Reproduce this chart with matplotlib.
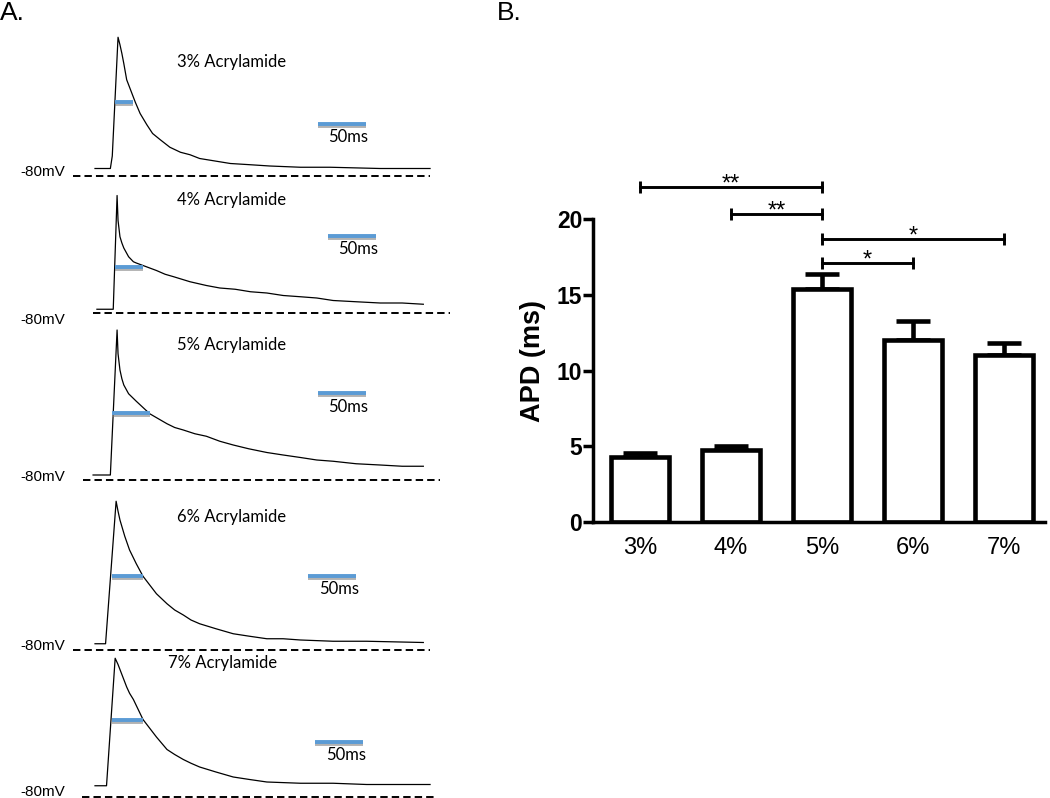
import matplotlib
matplotlib.use("Agg")
import matplotlib.pyplot as plt
import matplotlib.patheffects as pe
import numpy as np

W, H = 1050, 798

# ---- panel A: action potential traces, time (ms) and membrane potential (mV)
trace_names = ["3% Acrylamide", "4% Acrylamide", "5% Acrylamide", "6% Acrylamide", "7% Acrylamide"]
trace_t = [
    [0, 16, 18, 24, 26, 28, 30, 33, 38, 42, 47, 54, 60, 68, 78, 89, 99, 109, 125, 141, 162, 182, 214, 245, 297, 349],
    [2, 19, 23, 24, 26, 28, 30, 35, 40, 43, 50, 57, 64, 73, 82, 99, 116, 130, 146, 162, 179, 196, 214, 231, 248, 272, 297, 320, 342],
    [-2, 16, 23, 24, 26, 28, 30, 35, 43, 50, 57, 66, 75, 83, 92, 104, 116, 130, 144, 160, 179, 196, 214, 231, 248, 272, 297, 320, 342],
    [0, 11, 22, 24, 26, 31, 36, 43, 50, 57, 64, 75, 83, 92, 100, 109, 126, 144, 161, 179, 196, 214, 248, 283, 342],
    [0, 12, 21, 24, 26, 30, 33, 36, 40, 45, 50, 57, 64, 75, 83, 92, 100, 109, 126, 144, 161, 179, 214, 248, 283, 349],
]
trace_v = [
    [-74, -74, -64, 31, 25, 18, 10, -3, -13, -21, -30, -39, -46, -51, -57, -61, -63, -66, -68, -70, -71, -72, -73, -73, -74, -74],
    [-77, -77, 14, -6, -19, -24, -28, -35, -39, -40, -42, -44, -46, -49, -51, -55, -58, -60, -61, -63, -64, -66, -67, -68, -70, -71, -72, -72, -73],
    [-76, -76, 40, 21, 8, 1, -4, -11, -17, -22, -27, -31, -35, -38, -40, -43, -45, -49, -52, -55, -58, -60, -62, -64, -65, -67, -68, -69, -69],
    [-75, -75, 39, 31, 24, 11, 0, -11, -21, -28, -35, -43, -48, -52, -56, -59, -63, -67, -69, -71, -71, -72, -73, -73, -74],
    [-71, -71, 31, 26, 22, 14, 8, 3, -2, -10, -18, -25, -32, -42, -46, -50, -53, -56, -60, -64, -66, -68, -69, -69, -70, -70],
]
apd_start = [21, 21, 18, 18, 18]
apd_end = [40, 50, 57, 50, 50]
apd_level = [-21, -43, -26, -21, -18]
resting_mv = -80
scale_bar_ms = 50

# ---- panel B: APD bar chart
groups = ["3%", "4%", "5%", "6%", "7%"]
apd_mean = [4.3, 4.75, 15.4, 12.0, 11.05]
apd_sem = [0.27, 0.25, 1.0, 1.25, 0.75]
comparisons = [(0, 2, "**"), (1, 2, "**"), (2, 4, "*"), (2, 3, "*")]
bracket_y = [22.15, 20.35, 18.7, 17.1]

BLUE = "#5b9bd5"
MS_PER_PX = 50 / 48
MV_PER_PX = 0.8
T0_PX = 95

fig = plt.figure(figsize=(W / 100, H / 100), dpi=100)


def px_text(x, y, s, **kw):
    fig.text(x / W, 1 - y / H, s, **kw)


# band top, band bottom, -80 mV line (figure pixels)
bands = [(25, 185, 176), (185, 325, 313), (325, 490, 480), (490, 660, 650), (650, 798, 797)]
dash_from = [-23, -2, -13, -23, -14]
dash_to = [349, 370, 359, 349, 356]
bar_x = [232, 243, 232, 222, 229]
bar_level = [-38, -18, -10, -21, -36]
name_pos = [(232, 62), (232, 200), (232, 345), (232, 517), (223, 663)]
mv_pos = [172, 320, 477, 646, 792]
ms_pos = [(348, 137), (358, 249), (348, 407), (339, 589), (346, 755)]

for i, (top, bottom, base) in enumerate(bands):
    ax = fig.add_axes([0, 1 - bottom / H, 460 / W, (bottom - top) / H])
    ax.set_xlim(-T0_PX * MS_PER_PX, (460 - T0_PX) * MS_PER_PX)
    ax.set_ylim(resting_mv + (base - bottom) * MV_PER_PX, resting_mv + (base - top) * MV_PER_PX)
    ax.axis("off")

    ax.plot(trace_t[i], trace_v[i], color="black", lw=0.9, clip_on=False)
    ax.plot([dash_from[i], dash_to[i]], [resting_mv, resting_mv], color="black",
            lw=1.4, linestyle=(0, (3.8, 2.1)), clip_on=False)
    shadow = [pe.SimpleLineShadow(offset=(0, -1.5), shadow_color="gray", alpha=0.6), pe.Normal()]
    ax.plot([apd_start[i], apd_end[i]], [apd_level[i], apd_level[i]], color=BLUE,
            lw=2.8, solid_capstyle="butt", path_effects=shadow, clip_on=False)
    ax.plot([bar_x[i], bar_x[i] + scale_bar_ms], [bar_level[i], bar_level[i]], color=BLUE,
            lw=2.8, solid_capstyle="butt", path_effects=shadow, clip_on=False)

    px_text(*name_pos[i], trace_names[i], family="Lato", fontsize=12, ha="center", va="center")
    px_text(20, mv_pos[i], "-80mV", family="Liberation Sans", fontsize=11, ha="left", va="center")
    px_text(*ms_pos[i], f"{scale_bar_ms}ms", family="Lato", fontsize=12, ha="center", va="center")

px_text(0, 13, "A.", family="Liberation Sans", fontsize=19, ha="left", va="center")
px_text(497, 13, "B.", family="Liberation Sans", fontsize=19, ha="left", va="center")

# ---- bar chart
ax = fig.add_axes([593.3 / W, 1 - 521.7 / H, (1045 - 593.3) / W, (521.7 - 219.3) / H])
x = np.arange(len(groups))
ax.errorbar(x, apd_mean, yerr=[np.zeros(len(x)), apd_sem], fmt="none", ecolor="black",
            elinewidth=3.3, capsize=12, capthick=3.3, zorder=1)
ax.bar(x, apd_mean, width=0.64, facecolor="white", edgecolor="black", linewidth=3.3, zorder=2)

for (a, b, stars), y in zip(comparisons, bracket_y):
    ax.plot([a, b], [y, y], color="black", lw=2.1, marker="|", ms=8.5, mew=2.1, clip_on=False)
    ax.annotate(stars, xy=((a + b) / 2, y), xytext=(0, -2.5), textcoords="offset points",
                ha="center", va="baseline", fontsize=17, family="Liberation Sans",
                annotation_clip=False)

ax.set_xlim(-0.513, 4.45)
ax.set_ylim(0, 20)
for side in ["top", "right"]:
    ax.spines[side].set_visible(False)
for side in ["left", "bottom"]:
    ax.spines[side].set_linewidth(2.5)
ax.set_yticks([0, 5, 10, 15, 20])
ax.set_xticks(x)
ax.set_xticklabels(groups, family="Liberation Sans", fontsize=17)
for lbl in ax.get_yticklabels():
    lbl.set_family("Liberation Sans")
    lbl.set_fontweight("bold")
    lbl.set_fontsize(16.5)
ax.tick_params(axis="y", length=7, width=2.5, pad=1)
ax.tick_params(axis="x", length=0, pad=11)
ax.set_ylabel("APD (ms)", family="Liberation Sans", fontsize=19.5, fontweight="bold")
ax.yaxis.set_label_coords(-0.105, 0.53)

fig.savefig("out.png", dpi=100)
